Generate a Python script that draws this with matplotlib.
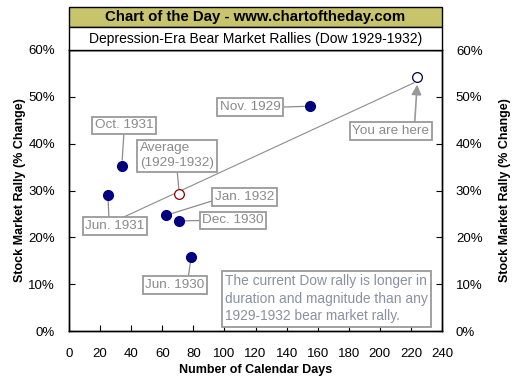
import matplotlib
matplotlib.use("Agg")
import matplotlib.pyplot as plt
from matplotlib.patches import Rectangle
from matplotlib.ticker import FuncFormatter

plt.rcParams['font.family'] = ['Liberation Sans', 'DejaVu Sans']

# rallies 1929-1932: calendar days vs % change
labels = ['Nov. 1929', 'Oct. 1931', 'Jun. 1931', 'Jan. 1932', 'Dec. 1930', 'Jun. 1930']
days = [155, 34, 25, 62.5, 70.5, 78.5]
pct = [48.0, 35.3, 29.1, 24.7, 23.5, 15.7]

avg_days, avg_pct = 71, 29.2
now_days, now_pct = 224, 54.3

# trend line ends
trend_x = [35, 222]
trend_y = [24.3, 53.0]

# label box centers and connector anchor on the box
label_pos = {
    'Nov. 1929': (116.5, 47.8, (1.0, 0.5)),
    'Oct. 1931': (35.4, 43.9, (0.5, 0.0)),
    'Jun. 1931': (29.6, 22.4, (0.4, 1.0)),
    'Jan. 1932': (113, 28.6, (0.0, 0.25)),
    'Dec. 1930': (105.5, 23.6, (0.0, 0.5)),
    'Jun. 1930': (68.2, 9.8, (0.72, 1.0)),
}

note = ("The current Dow rally is longer in\n"
        "duration and magnitude than any\n"
        "1929-1932 bear market rally.")

fig = plt.figure(figsize=(5.12, 3.84), dpi=100)
ax = fig.add_axes([69/512, 53/384, 373/512, 281/384])

box = dict(boxstyle='square,pad=0.2', fc='white', ec='#9a9a9a', lw=1.3)
gray = '#8a8a8a'

ax.plot(trend_x, trend_y, color='#8c8c8c', lw=0.8, zorder=2)
ax.plot(days, pct, 'o', color='#000080', ms=7, zorder=4)
ax.plot(avg_days, avg_pct, 'o', mfc='white', mec='#8b0000', mew=0.9, ms=7, zorder=4)
ax.plot(now_days, now_pct, 'o', mfc='white', mec='#000040', mew=0.9, ms=7, zorder=4)

for lab, x, y in zip(labels, days, pct):
    tx, ty, rel = label_pos[lab]
    ax.annotate(lab, xy=(x, y), xytext=(tx, ty), ha='center', va='center',
                fontsize=9.7, color=gray, bbox=box, zorder=3,
                arrowprops=dict(arrowstyle='-', color='#8c8c8c', lw=0.9,
                                relpos=rel, shrinkA=0, shrinkB=4))

ax.annotate('Average\n(1929-1932)', xy=(avg_days, avg_pct), xytext=(69.5, 37.4),
            ha='center', va='center', multialignment='left', fontsize=9.7,
            color=gray, bbox=box, linespacing=1.3, zorder=3,
            arrowprops=dict(arrowstyle='-', color='#8c8c8c', lw=0.9,
                            relpos=(0.5, 0.0), shrinkA=0, shrinkB=4))

ax.annotate('You are here', xy=(now_days, 52.6), xytext=(207, 42.7),
            ha='center', va='center', fontsize=9.7, color=gray, bbox=box, zorder=3,
            arrowprops=dict(arrowstyle='-|>,head_length=0.6,head_width=0.3',
                            color='#999999', lw=1.2, relpos=(0.81, 1.0),
                            shrinkA=0, shrinkB=0))

ax.text(100.5, 12.1, note, ha='left', va='top', fontsize=9.9, color='#8a90a0',
        linespacing=1.32, bbox=dict(boxstyle='square,pad=0.25', fc='white',
                                    ec='#9a9a9a', lw=1.3), zorder=3)

ax.set_xlim(0, 240)
ax.set_ylim(0, 60)
ax.set_xticks(range(0, 241, 20))
ax.set_yticks(range(0, 61, 10))
fmt = FuncFormatter(lambda v, p: f'{v:.0f}%')
ax.yaxis.set_major_formatter(fmt)
ax.tick_params(direction='in', length=4, labelsize=9.5, colors='black')
ax.tick_params(axis='y', pad=10)
ax.tick_params(axis='x', pad=12)
ax.set_xlabel('Number of Calendar Days', fontsize=9, fontweight='bold', labelpad=3)
ax.set_ylabel('Stock Market Rally (% Change)', fontsize=9, fontweight='bold', labelpad=2)

ax2 = ax.twinx()
ax2.set_ylim(0, 60)
ax2.set_yticks(range(0, 61, 10))
ax2.yaxis.set_major_formatter(fmt)
ax2.tick_params(direction='in', length=4, labelsize=9.5, pad=10)
ax2.set_ylabel('Stock Market Rally (% Change)', fontsize=9, fontweight='bold',
               labelpad=12)

for a in (ax, ax2):
    for s in a.spines.values():
        s.set_linewidth(1.0)

# header boxes
x0, w = 69/512, 373/512
fig.patches.append(Rectangle((x0, 357/384), w, 20/384, transform=fig.transFigure,
                             fc='#c8c46c', ec='black', lw=1.0))
fig.patches.append(Rectangle((x0, 334/384), w, 23/384, transform=fig.transFigure,
                             fc='white', ec='black', lw=1.0))
fig.text(x0 + w/2, 367/384, 'Chart of the Day - www.chartoftheday.com',
         ha='center', va='center', fontsize=10.8, fontweight='bold')
fig.text(x0 + w/2, 345.5/384, 'Depression-Era Bear Market Rallies (Dow 1929-1932)',
         ha='center', va='center', fontsize=10)

fig.savefig('out.png', dpi=100, facecolor='white')
